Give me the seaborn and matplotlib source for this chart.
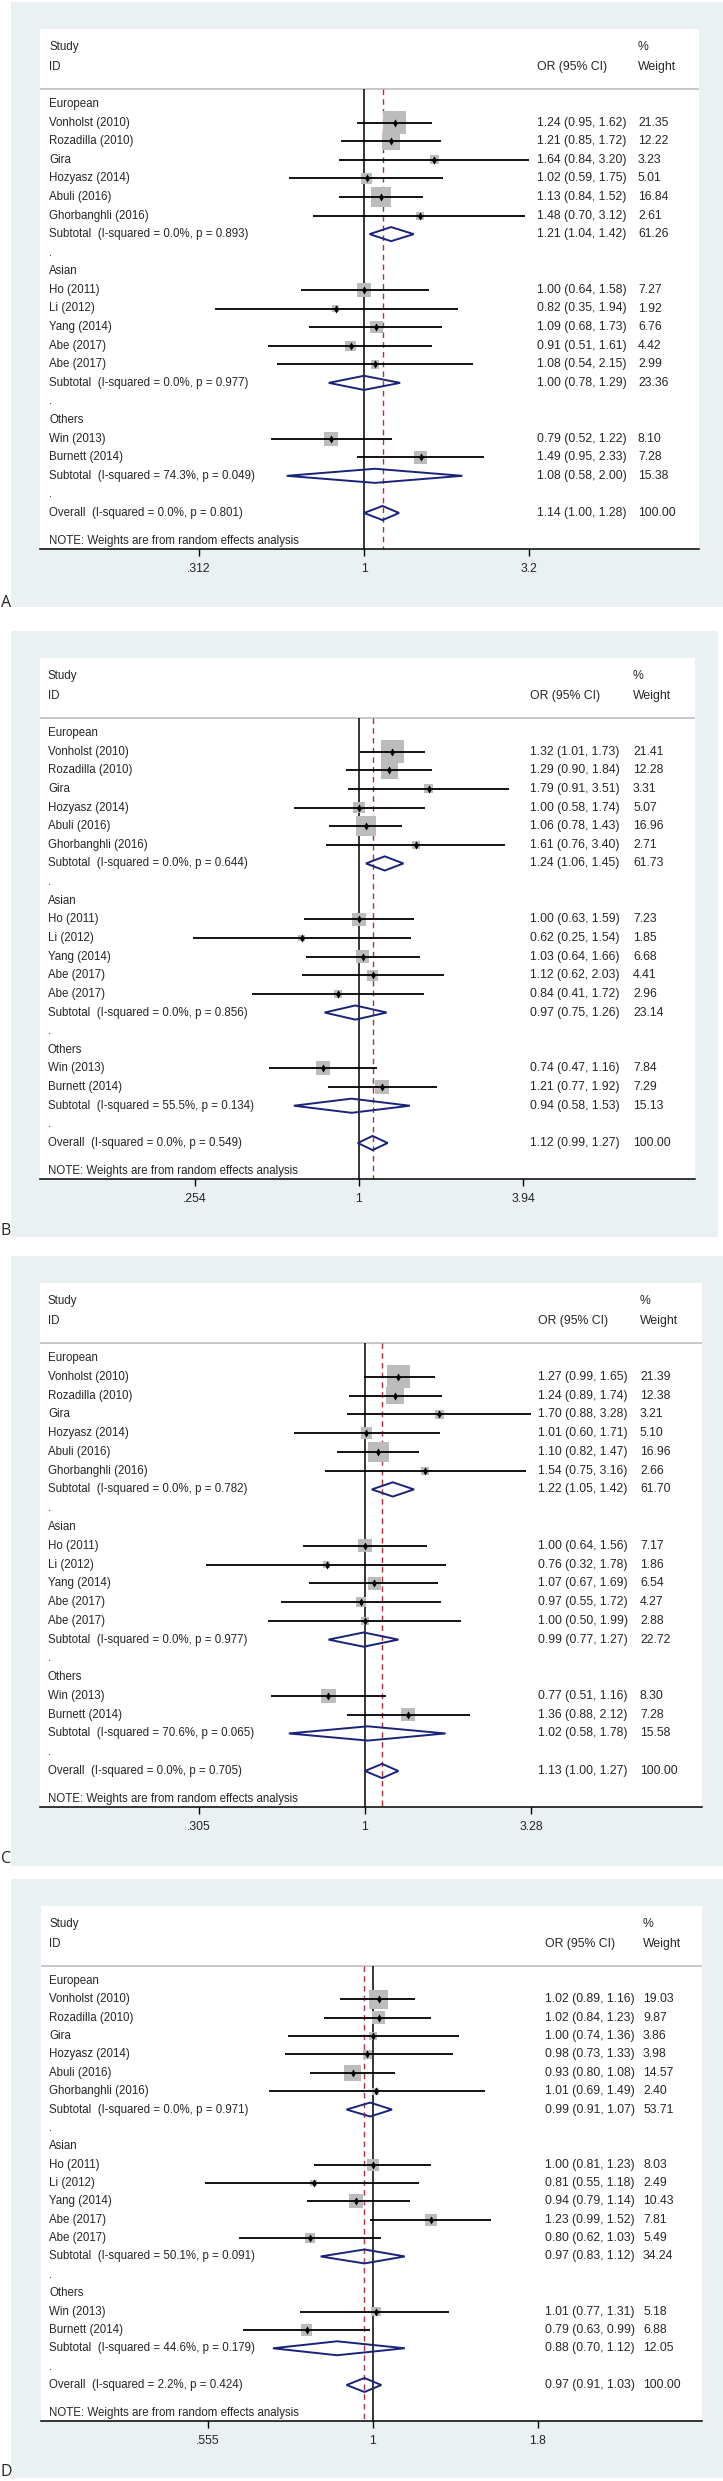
"""
Forest plots (4 panels, A-D) - OR (95% CI) by region, random effects
"""
import numpy as np
import matplotlib.pyplot as plt
import matplotlib.ticker as mticker
from matplotlib.patches import Rectangle, Polygon
import seaborn as sns

sns.set_style("white")
plt.rcParams['font.family'] = ['Liberation Sans', 'DejaVu Sans']

# ---------------------------------------------------------------------------
# Datos
# ---------------------------------------------------------------------------
groups = ['European', 'Asian', 'Others']
study_names = [
    ['Vonholst (2010)', 'Rozadilla (2010)', 'Gira', 'Hozyasz (2014)', 'Abuli (2016)', 'Ghorbanghli (2016)'],
    ['Ho (2011)', 'Li (2012)', 'Yang (2014)', 'Abe (2017)', 'Abe (2017)'],
    ['Win (2013)', 'Burnett (2014)'],
]

# Panel A
a_or = [1.24, 1.21, 1.64, 1.02, 1.13, 1.48, 1.00, 0.82, 1.09, 0.91, 1.08, 0.79, 1.49]
a_lo = [0.95, 0.85, 0.84, 0.59, 0.84, 0.70, 0.64, 0.35, 0.68, 0.51, 0.54, 0.52, 0.95]
a_hi = [1.62, 1.72, 3.20, 1.75, 1.52, 3.12, 1.58, 1.94, 1.73, 1.61, 2.15, 1.22, 2.33]
a_wt = [21.35, 12.22, 3.23, 5.01, 16.84, 2.61, 7.27, 1.92, 6.76, 4.42, 2.99, 8.10, 7.28]
a_sub_or = [1.21, 1.00, 1.08]
a_sub_lo = [1.04, 0.78, 0.58]
a_sub_hi = [1.42, 1.29, 2.00]
a_sub_wt = [61.26, 23.36, 15.38]
a_sub_i2 = [0.0, 0.0, 74.3]
a_sub_p = [0.893, 0.977, 0.049]
a_all = [1.14, 1.00, 1.28]
a_all_i2, a_all_p = 0.0, 0.801
a_ticks = [0.312, 1, 3.2]
a_ticklabels = ['.312', '1', '3.2']

# Panel B
b_or = [1.32, 1.29, 1.79, 1.00, 1.06, 1.61, 1.00, 0.62, 1.03, 1.12, 0.84, 0.74, 1.21]
b_lo = [1.01, 0.90, 0.91, 0.58, 0.78, 0.76, 0.63, 0.25, 0.64, 0.62, 0.41, 0.47, 0.77]
b_hi = [1.73, 1.84, 3.51, 1.74, 1.43, 3.40, 1.59, 1.54, 1.66, 2.03, 1.72, 1.16, 1.92]
b_wt = [21.41, 12.28, 3.31, 5.07, 16.96, 2.71, 7.23, 1.85, 6.68, 4.41, 2.96, 7.84, 7.29]
b_sub_or = [1.24, 0.97, 0.94]
b_sub_lo = [1.06, 0.75, 0.58]
b_sub_hi = [1.45, 1.26, 1.53]
b_sub_wt = [61.73, 23.14, 15.13]
b_sub_i2 = [0.0, 0.0, 55.5]
b_sub_p = [0.644, 0.856, 0.134]
b_all = [1.12, 0.99, 1.27]
b_all_i2, b_all_p = 0.0, 0.549
b_ticks = [0.254, 1, 3.94]
b_ticklabels = ['.254', '1', '3.94']

# Panel C
c_or = [1.27, 1.24, 1.70, 1.01, 1.10, 1.54, 1.00, 0.76, 1.07, 0.97, 1.00, 0.77, 1.36]
c_lo = [0.99, 0.89, 0.88, 0.60, 0.82, 0.75, 0.64, 0.32, 0.67, 0.55, 0.50, 0.51, 0.88]
c_hi = [1.65, 1.74, 3.28, 1.71, 1.47, 3.16, 1.56, 1.78, 1.69, 1.72, 1.99, 1.16, 2.12]
c_wt = [21.39, 12.38, 3.21, 5.10, 16.96, 2.66, 7.17, 1.86, 6.54, 4.27, 2.88, 8.30, 7.28]
c_sub_or = [1.22, 0.99, 1.02]
c_sub_lo = [1.05, 0.77, 0.58]
c_sub_hi = [1.42, 1.27, 1.78]
c_sub_wt = [61.70, 22.72, 15.58]
c_sub_i2 = [0.0, 0.0, 70.6]
c_sub_p = [0.782, 0.977, 0.065]
c_all = [1.13, 1.00, 1.27]
c_all_i2, c_all_p = 0.0, 0.705
c_ticks = [0.305, 1, 3.28]
c_ticklabels = ['.305', '1', '3.28']

# Panel D
d_or = [1.02, 1.02, 1.00, 0.98, 0.93, 1.01, 1.00, 0.81, 0.94, 1.23, 0.80, 1.01, 0.79]
d_lo = [0.89, 0.84, 0.74, 0.73, 0.80, 0.69, 0.81, 0.55, 0.79, 0.99, 0.62, 0.77, 0.63]
d_hi = [1.16, 1.23, 1.36, 1.33, 1.08, 1.49, 1.23, 1.18, 1.14, 1.52, 1.03, 1.31, 0.99]
d_wt = [19.03, 9.87, 3.86, 3.98, 14.57, 2.40, 8.03, 2.49, 10.43, 7.81, 5.49, 5.18, 6.88]
d_sub_or = [0.99, 0.97, 0.88]
d_sub_lo = [0.91, 0.83, 0.70]
d_sub_hi = [1.07, 1.12, 1.12]
d_sub_wt = [53.71, 34.24, 12.05]
d_sub_i2 = [0.0, 50.1, 44.6]
d_sub_p = [0.971, 0.091, 0.179]
d_all = [0.97, 0.91, 1.03]
d_all_i2, d_all_p = 2.2, 0.424
d_ticks = [0.555, 1, 1.8]
d_ticklabels = ['.555', '1', '1.8']

data_sets = [
    dict(est=a_or, lo=a_lo, hi=a_hi, wt=a_wt, sub_or=a_sub_or, sub_lo=a_sub_lo, sub_hi=a_sub_hi,
         sub_wt=a_sub_wt, sub_i2=a_sub_i2, sub_p=a_sub_p, all=a_all, all_i2=a_all_i2, all_p=a_all_p,
         ticks=a_ticks, ticklabels=a_ticklabels),
    dict(est=b_or, lo=b_lo, hi=b_hi, wt=b_wt, sub_or=b_sub_or, sub_lo=b_sub_lo, sub_hi=b_sub_hi,
         sub_wt=b_sub_wt, sub_i2=b_sub_i2, sub_p=b_sub_p, all=b_all, all_i2=b_all_i2, all_p=b_all_p,
         ticks=b_ticks, ticklabels=b_ticklabels),
    dict(est=c_or, lo=c_lo, hi=c_hi, wt=c_wt, sub_or=c_sub_or, sub_lo=c_sub_lo, sub_hi=c_sub_hi,
         sub_wt=c_sub_wt, sub_i2=c_sub_i2, sub_p=c_sub_p, all=c_all, all_i2=c_all_i2, all_p=c_all_p,
         ticks=c_ticks, ticklabels=c_ticklabels),
    dict(est=d_or, lo=d_lo, hi=d_hi, wt=d_wt, sub_or=d_sub_or, sub_lo=d_sub_lo, sub_hi=d_sub_hi,
         sub_wt=d_sub_wt, sub_i2=d_sub_i2, sub_p=d_sub_p, all=d_all, all_i2=d_all_i2, all_p=d_all_p,
         ticks=d_ticks, ticklabels=d_ticklabels),
]

# ---------------------------------------------------------------------------
# Layout (pixels in the 723x2481 figure)
# ---------------------------------------------------------------------------
W, H = 723, 2481
layout = [
    dict(bg=(11, 2, 723, 607), inner=(40, 29, 699, 549), null=364, k=141.9,
         xname=49, xor=537, xwt=638, label_y=603, box=4.9),
    dict(bg=(11, 631, 718, 1237), inner=(40, 658, 695, 1179), null=359, k=119.6,
         xname=48, xor=530, xwt=633, label_y=1231, box=5.0),
    dict(bg=(11, 1256, 723, 1866), inner=(40, 1283, 702, 1807), null=365, k=139.7,
         xname=48, xor=538, xwt=640, label_y=1859, box=5.0),
    dict(bg=(11, 1879, 723, 2478), inner=(41, 1906, 702, 2421), null=373, k=280.7,
         xname=49, xor=545, xwt=643, label_y=2472, box=4.3),
]

BG = '#e9f1f3'
BOX = '#bcbcbc'
NAVY = '#1a237a'
RED = '#b03040'
FS = 8.3      # textos
FSN = 8.8     # columnas numericas

fig = plt.figure(figsize=(W / 100, H / 100), dpi=100)
fig.patch.set_facecolor('white')

for letter, d, g in zip('ABCD', data_sets, layout):
    bx0, by0, bx1, by1 = g['bg']
    fig.add_artist(Rectangle((bx0 / W, 1 - by1 / H), (bx1 - bx0) / W, (by1 - by0) / H,
                             transform=fig.transFigure, facecolor=BG, edgecolor='none', zorder=0))
    fig.text(1 / W, 1 - g['label_y'] / H, letter, fontsize=11.5, family=['Open Sans', 'DejaVu Sans'],
             va='center', ha='left')

    il, it, ir, ib = g['inner']
    ax = fig.add_axes([il / W, 1 - ib / H, (ir - il) / W, (ib - it) / H])
    ax.set_facecolor('white')
    iw = ir - il
    sp = (ib - 36 - (it + 75)) / 22.0

    ax.set_xscale('log')
    ax.set_xlim(np.exp((il - g['null']) / g['k']), np.exp((ir - g['null']) / g['k']))
    ax.set_ylim((ib - it - 75) / sp, -75 / sp)
    ybot = (ib - it - 75) / sp
    header_row = -15 / sp

    def fx(px):
        return (px - il) / iw

    tr = ax.get_yaxis_transform()

    # filas
    row = 0
    study_rows, sub_rows = [], []
    labels = []
    for gi, gname in enumerate(groups):
        labels.append((row, gname)); row += 1
        for nm in study_names[gi]:
            labels.append((row, nm)); study_rows.append(row); row += 1
        labels.append((row, f"Subtotal  (I-squared = {d['sub_i2'][gi]:.1f}%, p = {d['sub_p'][gi]:.3f})"))
        sub_rows.append(row); row += 1
        labels.append((row, '.')); row += 1
    overall_row = row
    labels.append((overall_row, f"Overall  (I-squared = {d['all_i2']:.1f}%, p = {d['all_p']:.3f})"))

    est = np.array(d['est']); lo = np.array(d['lo']); hi = np.array(d['hi']); wt = np.array(d['wt'])

    # lineas de referencia
    ax.axhline(header_row, color='#c8c8c8', lw=1.4, zorder=1)
    ax.vlines(1, header_row, ybot, color='black', lw=1.1, zorder=1)
    ax.vlines(d['all'][0], header_row, ybot, color=RED, lw=1.0, linestyles=(0, (4, 3)), zorder=1)

    # cajas, IC, puntos
    side_pt = g['box'] * np.sqrt(wt) * 72 / 100
    ax.scatter(est, study_rows, s=side_pt ** 2, marker='s', color=BOX, linewidths=0, zorder=2)
    ax.hlines(study_rows, lo, hi, color='black', lw=1.3, zorder=3)
    sns.scatterplot(x=est, y=study_rows, marker='d', s=17, color='black', edgecolor='black',
                    linewidth=0, ax=ax, zorder=4, legend=False)

    # diamantes
    h = 0.38
    dia = list(zip(d['sub_or'], d['sub_lo'], d['sub_hi'], sub_rows)) + \
        [(d['all'][0], d['all'][1], d['all'][2], overall_row)]
    for e, l, u, r in dia:
        ax.add_patch(Polygon([(l, r), (e, r - h), (u, r), (e, r + h)], closed=True,
                             facecolor='none', edgecolor=NAVY, lw=1.4, zorder=5))

    # textos
    ax.text(fx(g['xname']), (18 - 75) / sp, 'Study', transform=tr, fontsize=FS, va='center')
    ax.text(fx(g['xname']), (38 - 75) / sp, 'ID', transform=tr, fontsize=FS, va='center')
    ax.text(fx(g['xor']), (38 - 75) / sp, 'OR (95% CI)', transform=tr, fontsize=FSN, va='center')
    ax.text(fx(g['xwt']), (18 - 75) / sp, '%', transform=tr, fontsize=FSN, va='center')
    ax.text(fx(g['xwt']), (38 - 75) / sp, 'Weight', transform=tr, fontsize=FSN, va='center')
    for r, t in labels:
        ax.text(fx(g['xname']), r, t, transform=tr, fontsize=FS, va='center')
    for i, r in enumerate(study_rows):
        ax.text(fx(g['xor']), r, f"{est[i]:.2f} ({lo[i]:.2f}, {hi[i]:.2f})", transform=tr,
                fontsize=FSN, va='center')
        ax.text(fx(g['xwt']), r, f"{wt[i]:.2f}", transform=tr, fontsize=FSN, va='center')
    for i, r in enumerate(sub_rows):
        ax.text(fx(g['xor']), r, f"{d['sub_or'][i]:.2f} ({d['sub_lo'][i]:.2f}, {d['sub_hi'][i]:.2f})",
                transform=tr, fontsize=FSN, va='center')
        ax.text(fx(g['xwt']), r, f"{d['sub_wt'][i]:.2f}", transform=tr, fontsize=FSN, va='center')
    ax.text(fx(g['xor']), overall_row, f"{d['all'][0]:.2f} ({d['all'][1]:.2f}, {d['all'][2]:.2f})",
            transform=tr, fontsize=FSN, va='center')
    ax.text(fx(g['xwt']), overall_row, '100.00', transform=tr, fontsize=FSN, va='center')
    ax.text(fx(g['xname']), (ib - it - 8 - 75) / sp, 'NOTE: Weights are from random effects analysis',
            transform=tr, fontsize=FS, va='center')

    # ejes
    for s in ['left', 'right', 'top']:
        ax.spines[s].set_visible(False)
    ax.spines['bottom'].set_color('black')
    ax.spines['bottom'].set_linewidth(1.1)
    ax.set_yticks([])
    ax.xaxis.set_major_locator(mticker.FixedLocator(d['ticks']))
    ax.xaxis.set_major_formatter(mticker.FixedFormatter(d['ticklabels']))
    ax.xaxis.set_minor_locator(mticker.NullLocator())
    ax.tick_params(axis='x', bottom=True, direction='out', length=5, width=1, pad=5,
                   labelsize=FSN, color='black')
    ax.set_xlabel('')
    ax.set_ylabel('')

fig.savefig('out.png', dpi=100)
